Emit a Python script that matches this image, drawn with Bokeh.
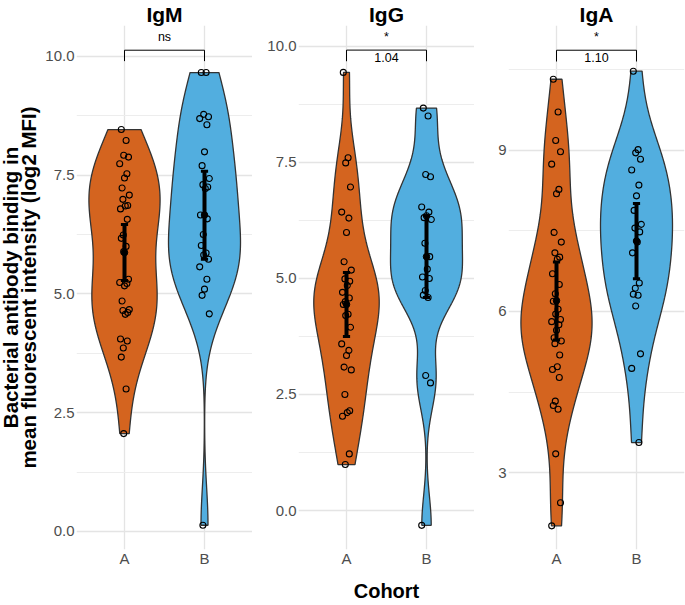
import numpy as np
from bokeh.plotting import figure
from bokeh.layouts import row
from bokeh.models import FixedTicker, Range1d, Label
from bokeh.core.properties import value
from bokeh.embed import file_html
from bokeh.resources import INLINE

# ---------------- data ----------------
cohorts = ["A", "B"]
panels = ["IgM", "IgG", "IgA"]

igm_a = [8.46, 8.23, 7.92, 7.88, 7.74, 7.53, 7.44, 7.23, 7.08, 6.99, 6.86, 6.85, 6.79,
         6.57, 6.24, 6.17, 6.00, 5.89, 5.31, 5.24, 5.22, 5.17, 4.85, 4.67, 4.65, 4.61,
         4.57, 4.05, 4.01, 3.86, 3.67, 3.00, 2.06]
igm_b = [9.66, 9.66, 8.78, 8.73, 8.69, 8.56, 7.99, 7.70, 7.43, 7.30, 7.25, 7.22, 6.66,
         6.58, 6.25, 6.02, 5.86, 5.82, 5.73, 5.57, 5.31, 5.10, 4.97, 4.58, 0.13]
igg_a = [9.44, 7.60, 7.49, 6.97, 6.43, 6.30, 5.99, 5.36, 5.18, 4.99, 4.94, 4.85, 4.70,
         4.58, 4.50, 4.44, 4.23, 4.20, 3.95, 3.59, 3.45, 3.34, 3.09, 3.03, 2.50, 2.15,
         2.11, 2.03, 1.22, 0.99]
igg_b = [8.67, 8.50, 7.24, 7.19, 6.54, 6.43, 6.35, 6.31, 6.27, 5.76, 5.47, 5.20, 5.03,
         5.00, 4.74, 4.64, 4.59, 2.91, 2.75, -0.32]
iga_a = [10.32, 9.71, 9.18, 8.97, 8.74, 8.27, 8.19, 7.47, 7.29, 7.09, 7.01, 6.97, 6.70,
         6.50, 6.33, 6.19, 6.04, 5.95, 5.85, 5.81, 5.75, 5.65, 5.51, 5.45, 5.40, 5.19,
         4.97, 4.92, 4.77, 4.33, 4.25, 4.18, 3.35, 2.44, 2.01]
iga_b = [10.47, 9.01, 8.95, 8.83, 8.63, 8.35, 8.15, 7.88, 7.62, 7.55, 7.48, 7.29, 7.09,
         6.53, 6.43, 6.32, 6.30, 6.10, 5.21, 4.94, 3.56]

# mean and 95% CI per cohort (A, B)
igm_mean, igm_lo, igm_hi = [5.87, 6.66], [5.28, 5.73], [6.46, 7.58]
igg_mean, igg_lo, igg_hi = [4.44, 5.47], [3.75, 4.59], [5.13, 6.35]
iga_mean, iga_lo, iga_hi = [6.20, 7.31], [5.47, 6.61], [6.92, 8.01]

# significance annotations
sig_above = ["ns", "*", "*"]
sig_below = ["", "1.04", "1.10"]
bracket_top = [10.13, 9.92, 10.86]
bracket_bottom = [9.90, 9.68, 10.65]

# axes
y_ranges = [(-0.38, 10.65), (-0.84, 10.45), (1.57, 11.32)]
y_ticks = [[0, 2.5, 5, 7.5, 10], [0, 2.5, 5, 7.5, 10], [3, 6, 9]]
y_tick_labels = [["0.0", "2.5", "5.0", "7.5", "10.0"], ["0.0", "2.5", "5.0", "7.5", "10.0"],
                 ["3", "6", "9"]]
y_minor = [[1.25, 3.75, 6.25, 8.75], [1.25, 3.75, 6.25, 8.75], [1.5, 4.5, 7.5, 10.5]]
y_title_lines = ["Bacterial antibody binding in", "mean fluorescent intensity (log2 MFI)"]
x_title = "Cohort"

# ---------------- styling ----------------
FONT = "Liberation Sans"
COLORS = ["#D4641F", "#52AEDF"]
JITTER = [-0.04, 0.02, -0.01, 0.05, -0.06, 0.03, 0.0, -0.03, 0.06, -0.02, 0.04, 0.01,
          -0.05, 0.035, -0.015]
FRAME_W = 176
FRAME_H = 524
TOP = 24
BOTTOM = 57

values = [(igm_a, igm_b), (igg_a, igg_b), (iga_a, iga_b)]
summaries = [(igm_mean, igm_lo, igm_hi), (igg_mean, igg_lo, igg_hi), (iga_mean, iga_lo, iga_hi)]


def kde(data, grid):
    x = np.asarray(data, dtype=float)
    n = len(x)
    sd = x.std(ddof=1)
    q75, q25 = np.percentile(x, [75, 25])
    lo = min(sd, (q75 - q25) / 1.34)
    bw = 0.9 * lo * n ** (-0.2)
    z = (grid[:, None] - x[None, :]) / bw
    return np.exp(-0.5 * z ** 2).sum(axis=1) / (n * bw * np.sqrt(2 * np.pi))


def style_title(p, text):
    p.title.text = text
    p.title.align = "center"
    p.title.text_font = FONT
    p.title.text_font_size = "21px"
    p.title.text_font_style = "bold"
    p.title.text_color = "black"
    p.title.standoff = 0
    p.title.offset = 0


# left strip carrying the two-line y-axis title
TITLE_W = 42
p0 = figure(frame_width=TITLE_W, frame_height=FRAME_H, output_backend="svg",
            toolbar_location=None, x_range=Range1d(0, TITLE_W), y_range=Range1d(0, 1),
            x_axis_type=None, y_axis_type=None, min_border_left=0, min_border_right=0,
            min_border_top=TOP, min_border_bottom=BOTTOM)
style_title(p0, " ")
p0.outline_line_color = None
p0.grid.visible = False
for k, txt in enumerate(y_title_lines):
    p0.add_layout(Label(x=9.5 + 18 * k, y=0.5, text=txt, angle=90, angle_units="deg",
                        text_align="center", text_baseline="middle", text_font=FONT,
                        text_font_size="20.5px", text_font_style="bold", text_color="black"))

borders_left = [76 - TITLE_W, 46, 34]
borders_right = [0, 0, 1]
figs = [p0]
for i, name in enumerate(panels):
    p = figure(frame_width=FRAME_W, frame_height=FRAME_H, output_backend="svg",
               toolbar_location=None,
               x_range=Range1d(0.4, 2.6), y_range=Range1d(*y_ranges[i]),
               min_border_left=borders_left[i], min_border_right=borders_right[i],
               min_border_top=TOP, min_border_bottom=BOTTOM)
    style_title(p, name)
    p.outline_line_color = None
    p.background_fill_color = "white"
    p.border_fill_color = "white"

    # violins
    grids, dens = [], []
    for vals in values[i]:
        g = np.linspace(min(vals), max(vals), 512)
        grids.append(g)
        dens.append(kde(vals, g))
    dmax = max(d.max() for d in dens)
    for j, vals in enumerate(values[i]):
        half = 0.45 * dens[j] / dmax
        cx = j + 1
        xs = np.concatenate([cx - half, (cx + half)[::-1]])
        ys = np.concatenate([grids[j], grids[j][::-1]])
        p.patch(xs, ys, fill_color=COLORS[j], line_color="#333333", line_width=1.3)

    # points
    for j, vals in enumerate(values[i]):
        xs = [j + 1 + JITTER[k % len(JITTER)] for k in range(len(vals))]
        p.scatter(xs, vals, size=6, fill_color=None, line_color="black", line_width=1.1)

    # mean +/- CI
    m, lo, hi = summaries[i]
    xc = [1, 2]
    p.segment(x0=xc, y0=lo, x1=xc, y1=hi, line_color="black", line_width=4)
    for yy in (lo, hi):
        p.segment(x0=[c - 0.045 for c in xc], y0=yy, x1=[c + 0.045 for c in xc], y1=yy,
                  line_color="black", line_width=3)
    p.scatter(xc, m, size=6.5, fill_color="black", line_color="black")

    # significance bracket
    bt, bb = bracket_top[i], bracket_bottom[i]
    p.line([1, 1, 2, 2], [bb, bt, bt, bb], line_color="black", line_width=1)
    p.text(x=[1.5], y=[bt], text=[sig_above[i]], text_font=value(FONT),
           text_font_size="12.5px", text_align="center", text_baseline="bottom",
           y_offset=-6, text_color="black")
    if sig_below[i]:
        p.text(x=[1.5], y=[bt], text=[sig_below[i]], text_font=value(FONT),
               text_font_size="12.5px", text_align="center", text_baseline="top",
               y_offset=3, text_color="black")

    # axes
    p.xaxis.ticker = FixedTicker(ticks=[1, 2])
    p.xaxis.major_label_overrides = {1: cohorts[0], 2: cohorts[1]}
    p.yaxis.ticker = FixedTicker(ticks=y_ticks[i], minor_ticks=y_minor[i])
    p.yaxis.major_label_overrides = {t: l for t, l in zip(y_ticks[i], y_tick_labels[i])}
    for ax in (p.xaxis, p.yaxis):
        ax.axis_line_color = None
        ax.major_tick_line_color = None
        ax.minor_tick_line_color = None
        ax.major_tick_out = 0
        ax.major_tick_in = 0
        ax.minor_tick_out = 0
        ax.minor_tick_in = 0
        ax.major_label_text_font = FONT
        ax.major_label_text_font_size = "15px"
        ax.major_label_text_color = "#4D4D4D"
        ax.major_label_standoff = 2
    p.xaxis.major_label_standoff = 0
    p.xgrid.ticker = FixedTicker(ticks=[1, 2])
    p.xgrid.grid_line_color = "#E4E4E4"
    p.xgrid.grid_line_width = 1.3
    p.ygrid.grid_line_color = "#E4E4E4"
    p.ygrid.grid_line_width = 1.3
    p.ygrid.minor_grid_line_color = "#EDEDED"
    p.ygrid.minor_grid_line_width = 1

    if i == 1:
        p.xaxis.axis_label = x_title
        p.xaxis.axis_label_text_font = FONT
        p.xaxis.axis_label_text_font_size = "20px"
        p.xaxis.axis_label_text_font_style = "bold"
        p.xaxis.axis_label_text_color = "black"
        p.xaxis.axis_label_standoff = 10
    figs.append(p)

layout = row(*figs)
open("out.html", "w").write(file_html(layout, INLINE))
